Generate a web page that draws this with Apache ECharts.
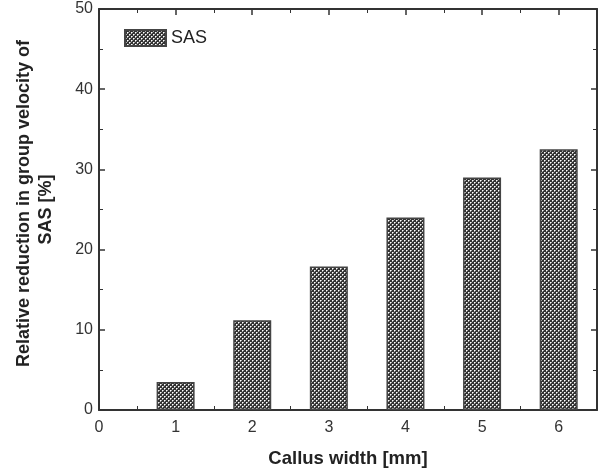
<!DOCTYPE html>
<html><head><meta charset="utf-8">
<script src="https://cdn.jsdelivr.net/npm/echarts@6/dist/echarts.min.js"></script>
<style>html,body{margin:0;padding:0;background:#fff}#c{width:605px;height:473px}</style>
</head><body><div id="c"></div>
<script>
const categories = [1, 2, 3, 4, 5, 6];
const sasValues = [3.5, 11.2, 17.9, 24.0, 29.0, 32.5];
const xTicks = [0, 1, 2, 3, 4, 5, 6];
const yTicks = [0, 10, 20, 30, 40, 50];

function makePattern() {
  const c = document.createElement('canvas');
  c.width = 4; c.height = 4;
  const g = c.getContext('2d');
  g.fillStyle = '#333'; g.fillRect(0, 0, 4, 4);
  g.fillStyle = '#fff'; g.fillRect(0, 0, 1, 1); g.fillRect(2, 2, 1, 1);
  g.fillStyle = '#aaa';
  [[1,0],[0,1],[3,2],[2,3]].forEach(([x,y]) => g.fillRect(x, y, 1, 1));
  return { image: c, repeat: 'repeat' };
}
const pat = makePattern();

const axisCol = '#333';
const font = 'Liberation Sans, Arial, sans-serif';
function axisBase(extra) {
  return Object.assign({
    show: true,
    axisLine: { show: true, onZero: false, lineStyle: { color: axisCol, width: 2 } },
    axisTick: { show: true, inside: true, length: 6, lineStyle: { color: axisCol, width: 1.5 } },
    minorTick: { show: true, splitNumber: 2, length: 4, lineStyle: { color: axisCol, width: 1 } },
    splitLine: { show: false }
  }, extra);
}
const nameRich = {
  a: { fontFamily: font, fontSize: 18, fontWeight: 'bold', color: '#222', lineHeight: 22, padding: [0, 0, 0, 12] },
  b: { fontFamily: font, fontSize: 18, fontWeight: 'bold', color: '#222', lineHeight: 22 }
};
const chart = echarts.init(document.getElementById('c'), null, { renderer: 'canvas' });
chart.setOption({
  animation: false,
  grid: { left: 99, right: 8, top: 9, bottom: 60, containLabel: false },
  legend: {
    left: 124, top: 29, padding: 0, itemWidth: 41, itemHeight: 16, itemGap: 5,
    textStyle: { fontFamily: font, fontSize: 18, color: '#222', padding: [0, 0, 0, 0] },
    data: [{ name: 'SAS', icon: 'rect' }]
  },
  xAxis: [axisBase({
    type: 'value', position: 'bottom', min: 0, max: 6.5, interval: 1,
    name: 'Callus width [mm]', nameLocation: 'middle', nameGap: 39,
    nameTextStyle: { fontFamily: font, fontSize: 18.5, fontWeight: 'bold', color: '#222' },
    axisLabel: { show: true, fontFamily: font, fontSize: 16, color: '#333', margin: 10,
      formatter: v => xTicks.includes(v) ? String(v) : '' }
  }), axisBase({
    type: 'value', position: 'top', min: 0, max: 6.5, interval: 1,
    axisLabel: { show: false }
  })],
  yAxis: [axisBase({
    type: 'value', position: 'left', min: 0, max: 50, interval: 10,
    name: '{a|Relative reduction in group velocity of}\n{b|SAS [%]}', nameLocation: 'middle', nameGap: 42,
    nameTextStyle: { fontFamily: font, fontSize: 18, fontWeight: 'bold', color: '#222', lineHeight: 22, rich: nameRich },
    axisLabel: { show: true, fontFamily: font, fontSize: 16, color: '#333', margin: 6,
      formatter: v => yTicks.includes(v) ? String(v) : '' }
  }), axisBase({
    type: 'value', position: 'right', min: 0, max: 50, interval: 10,
    axisLabel: { show: false }
  })],
  series: [{
    name: 'SAS', type: 'bar', xAxisIndex: 0, yAxisIndex: 0,
    barWidth: 38,
    data: categories.map((c, i) => [c, sasValues[i]]),
    itemStyle: { color: pat, borderColor: '#444', borderWidth: 1.5 }
  }, {
    name: 'mirror', type: 'line', xAxisIndex: 1, yAxisIndex: 1, data: [], silent: true
  }]
});
</script></body></html>
